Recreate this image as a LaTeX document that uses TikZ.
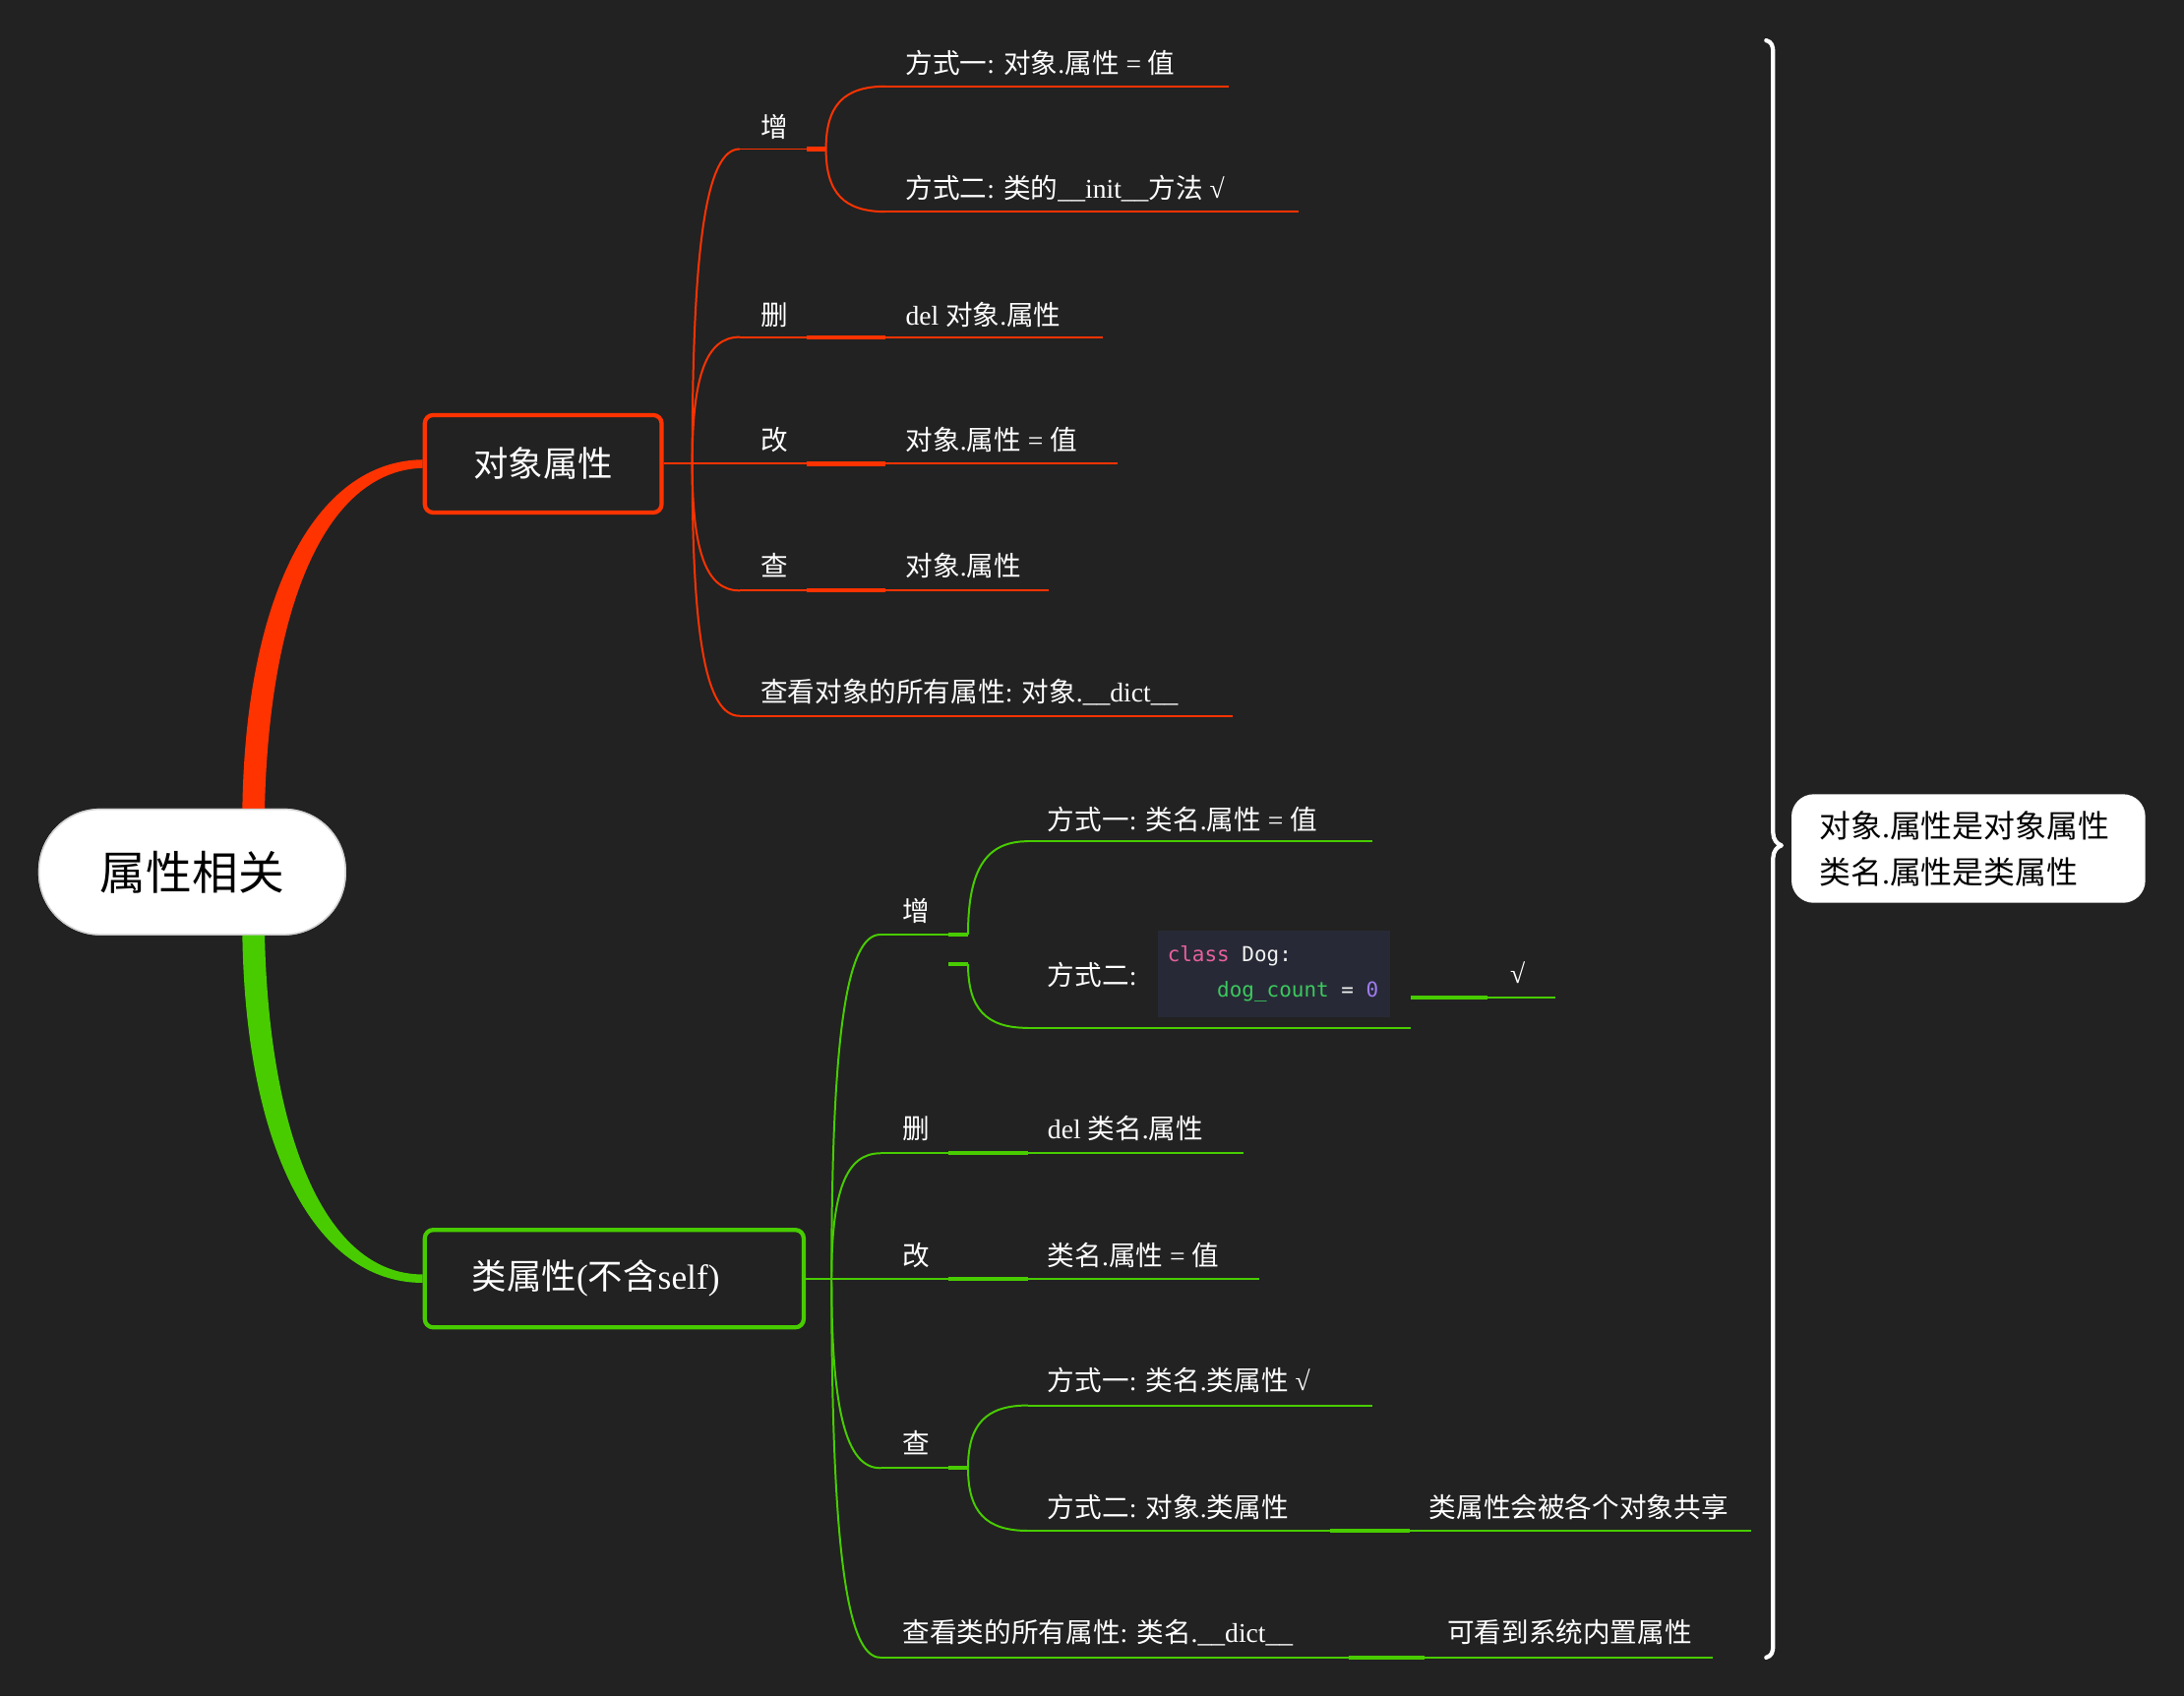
\documentclass[tikz,border=0pt]{standalone}
\usepackage{fontspec}
\setmainfont{Liberation Serif}
\newfontfamily\zhfont{Noto Sans CJK SC}
\newfontfamily\codefont{DejaVu Sans Mono}
\usetikzlibrary{calc}
\newcommand\zh[1]{{\zhfont#1}}
\newcommand\msp{\hspace*{0.602em}}
\definecolor{bg}{HTML}{222222}
\definecolor{rd}{HTML}{FF3300}
\definecolor{gn}{HTML}{48CC00}
\definecolor{codebg}{HTML}{272A36}
\definecolor{cpink}{HTML}{E8609F}
\definecolor{cgreen}{HTML}{3CC95E}
\definecolor{cpurple}{HTML}{A07CF0}
\definecolor{codew}{HTML}{F2F2F2}
\newcommand\brcurve[3]{\draw[ln,#1] (#2) .. controls ($(#2)!0.7!(#2|-#3)$) and ($(#2|-#3)!0.3!(#3)$) .. (#3);}
\begin{document}
\begin{tikzpicture}[x=1pt,y=-1pt,
  lbl/.style={anchor=west,inner sep=0pt,text=white,font=\fontsize{19.5}{23}\selectfont},
  ln/.style={line width=1.4pt},
  stub/.style={line width=3pt},
  branchbox/.style={draw,line width=3pt,rounded corners=6pt,minimum height=70pt,text=white,
    font=\fontsize{25}{30}\selectfont,inner xsep=0pt},
  rootbox/.style={fill=white,draw=gray!35,line width=1pt,rounded corners=44pt,minimum width=220pt,
    minimum height=90pt,font=\fontsize{33}{38}\selectfont,text=black},
]
\useasboundingbox (0,0) rectangle (1568,1218);
\fill[bg] (0,0) rectangle (1568,1218);

% ---------- main nodes ----------
\node[rootbox] (root) at (138,626) {\zh{属性相关}};
\node[branchbox,draw=rd,minimum width=170pt] (objbox) at (390,333) {\zh{对象属性}};
\node[branchbox,draw=gn,minimum width=272pt,text width=204pt,align=left,inner xsep=34pt] (clsbox) at (441,918) {\zh{类属性}(\zh{不含}self)};

% thick main connectors
\fill[rd] ($(root.north)+(36,1)$) .. controls (176,430) and (225,331) .. ($(objbox.west)+(0,-3)$)
  -- ($(objbox.west)+(0,3)$) .. controls (232,338) and (193,440) .. ($(root.north)+(52,1)$) -- cycle;
\fill[gn] ($(root.south)+(36,-1)$) .. controls (176,822) and (225,921) .. ($(clsbox.west)+(0,3)$)
  -- ($(clsbox.west)+(0,-3)$) .. controls (232,915) and (193,812) .. ($(root.south)+(52,-1)$) -- cycle;
% root on top of connectors
\node[rootbox] at (root) {\zh{属性相关}};

% ---------- red subtree ----------
\coordinate (R0) at (497,333);
\coordinate (rA) at (531,107); \coordinate (rB) at (531,242); \coordinate (rC) at (531,333);
\coordinate (rD) at (531,424); \coordinate (rE) at (531,514);
\draw[rd,ln] (objbox.east) -- (R0) -- (rC);
\brcurve{rd}{R0}{rA}
\brcurve{rd}{R0}{rB}
\brcurve{rd}{R0}{rD}
\brcurve{rd}{R0}{rE}

\node[lbl] (tA) at (546,91) {\zh{增}};
\node[lbl] (tA1) at (650,45) {\zh{方式一}: \zh{对象}.\zh{属性} = \zh{值}};
\node[lbl] (tA2) at (650,135) {\zh{方式二}: \zh{类的}\_\_init\_\_\zh{方法} √};
\node[lbl] (tB) at (546,226) {\zh{删}};
\node[lbl] (tB1) at (650,226) {del \zh{对象}.\zh{属性}};
\node[lbl] (tC) at (546,316) {\zh{改}};
\node[lbl] (tC1) at (650,316) {\zh{对象}.\zh{属性} = \zh{值}};
\node[lbl] (tD) at (546,406) {\zh{查}};
\node[lbl] (tD1) at (650,406) {\zh{对象}.\zh{属性}};
\node[lbl] (tE) at (546,497) {\zh{查看对象的所有属性}: \zh{对象}.\_\_dict\_\_};

% 增
\coordinate (rAe) at (579,107); \coordinate (rAf) at (593,107);
\coordinate (rA1) at (636,62); \coordinate (rA1e) at (882,62);
\coordinate (rA2) at (636,152); \coordinate (rA2e) at (932,152);
\draw[rd,ln] (rA) -- (rAe);
\draw[rd,stub] (rAe) -- (rAf);
\brcurve{rd}{rAf}{rA1}
\brcurve{rd}{rAf}{rA2}
\draw[rd,ln] (rA1) -- (rA1e);
\draw[rd,ln] (rA2) -- (rA2e);
% 删
\coordinate (rBe) at (579,242); \coordinate (rB1) at (636,242); \coordinate (rB1e) at (792,242);
\draw[rd,ln] (rB) -- (rBe); \draw[rd,stub] (rBe) -- (rB1); \draw[rd,ln] (rB1) -- (rB1e);
% 改
\coordinate (rCe) at (579,333); \coordinate (rC1) at (636,333); \coordinate (rC1e) at (802,333);
\draw[rd,ln] (rC) -- (rCe); \draw[rd,stub] (rCe) -- (rC1); \draw[rd,ln] (rC1) -- (rC1e);
% 查
\coordinate (rDe) at (579,424); \coordinate (rD1) at (636,424); \coordinate (rD1e) at (753,424);
\draw[rd,ln] (rD) -- (rDe); \draw[rd,stub] (rDe) -- (rD1); \draw[rd,ln] (rD1) -- (rD1e);
% 查看
\coordinate (rEe) at (885,514);
\draw[rd,ln] (rE) -- (rEe);

% ---------- green subtree ----------
\coordinate (G0) at (597,918);
\coordinate (gA) at (632,671); \coordinate (gB) at (632,828); \coordinate (gC) at (632,918);
\coordinate (gD) at (632,1054); \coordinate (gE) at (632,1190);
\draw[gn,ln] (clsbox.east) -- (G0) -- (gC);
\brcurve{gn}{G0}{gA}
\brcurve{gn}{G0}{gB}
\brcurve{gn}{G0}{gD}
\brcurve{gn}{G0}{gE}

\node[lbl] (uA) at (648,654) {\zh{增}};
\node[lbl] (uA1) at (752,588) {\zh{方式一}: \zh{类名}.\zh{属性} = \zh{值}};
\node[lbl] (uA2) at (752,700) {\zh{方式二}:};
\node[fill=codebg,anchor=north west,minimum width=167pt,minimum height=62pt,text width=153pt,
  inner xsep=7pt,inner ysep=0pt,align=left,font=\codefont\fontsize{14.8}{26}\selectfont] (code) at (831,668)
  {\textcolor{cpink}{class}\msp\textcolor{codew}{Dog:}\\\msp\msp\msp\msp\textcolor{cgreen}{dog\_count}\msp\textcolor{codew}{=}\msp\textcolor{cpurple}{0}};
\node[lbl] (uA3) at (1084,698) {√};
\node[lbl] (uB) at (648,810) {\zh{删}};
\node[lbl] (uB1) at (752,810) {del \zh{类名}.\zh{属性}};
\node[lbl] (uC) at (648,901) {\zh{改}};
\node[lbl] (uC1) at (752,901) {\zh{类名}.\zh{属性} = \zh{值}};
\node[lbl] (uD) at (648,1036) {\zh{查}};
\node[lbl] (uD1) at (752,991) {\zh{方式一}: \zh{类名}.\zh{类属性} √};
\node[lbl] (uD2) at (752,1082) {\zh{方式二}: \zh{对象}.\zh{类属性}};
\node[lbl] (uD3) at (1026,1082) {\zh{类属性会被各个对象共享}};
\node[lbl] (uE) at (648,1172) {\zh{查看类的所有属性}: \zh{类名}.\_\_dict\_\_};
\node[lbl] (uE1) at (1039,1172) {\zh{可看到系统内置属性}};

% 增
\coordinate (gAe) at (681,671); \coordinate (gAf) at (695,671);
\coordinate (gAg) at (681,692); \coordinate (gAh) at (695,692);
\coordinate (gA1) at (738,604); \coordinate (gA1e) at (985,604);
\coordinate (gA2) at (738,738); \coordinate (gA2e) at (1013,738);
\coordinate (gA3) at (1013,716); \coordinate (gA3m) at (1068,716); \coordinate (gA3e) at (1117,716);
\draw[gn,ln] (gA) -- (gAe);
\draw[gn,stub] (gAe) -- (gAf);
\draw[gn,stub] (gAg) -- (gAh);
\brcurve{gn}{gAf}{gA1}
\brcurve{gn}{gAh}{gA2}
\draw[gn,ln] (gA1) -- (gA1e);
\draw[gn,ln] (gA2) -- (gA2e);
\draw[gn,stub] (gA3) -- (gA3m); \draw[gn,ln] (gA3m) -- (gA3e);
% 删
\coordinate (gBe) at (681,828); \coordinate (gB1) at (738,828); \coordinate (gB1e) at (893,828);
\draw[gn,ln] (gB) -- (gBe); \draw[gn,stub] (gBe) -- (gB1); \draw[gn,ln] (gB1) -- (gB1e);
% 改
\coordinate (gCe) at (681,918); \coordinate (gC1) at (738,918); \coordinate (gC1e) at (904,918);
\draw[gn,ln] (gC) -- (gCe); \draw[gn,stub] (gCe) -- (gC1); \draw[gn,ln] (gC1) -- (gC1e);
% 查
\coordinate (gDe) at (681,1054); \coordinate (gDf) at (695,1054);
\coordinate (gD1) at (738,1009); \coordinate (gD1e) at (985,1009);
\coordinate (gD2) at (738,1099); \coordinate (gD2e) at (955,1099);
\coordinate (gD3) at (1012,1099); \coordinate (gD3e) at (1257,1099);
\draw[gn,ln] (gD) -- (gDe);
\draw[gn,stub] (gDe) -- (gDf);
\brcurve{gn}{gDf}{gD1}
\brcurve{gn}{gDf}{gD2}
\draw[gn,ln] (gD1) -- (gD1e);
\draw[gn,ln] (gD2) -- (gD2e);
\draw[gn,stub] (gD2e) -- (gD3); \draw[gn,ln] (gD3) -- (gD3e);
% 查看
\coordinate (gEe) at (968,1190); \coordinate (gE1) at (1023,1190); \coordinate (gE1e) at (1230,1190);
\draw[gn,ln] (gE) -- (gEe); \draw[gn,stub] (gEe) -- (gE1); \draw[gn,ln] (gE1) -- (gE1e);

% ---------- brace and note ----------
\coordinate (bTop) at (1268,29);
\coordinate (bTip) at (1279,607);
\coordinate (bBot) at (1268,1190);
\draw[white,line width=3pt,line cap=round,line join=round]
  (bTop) .. controls (1272,30) and (1273,33) .. (1273,38) -- (1273,598)
  .. controls (1273,603) and (1276,606) .. (bTip)
  .. controls (1276,608) and (1273,611) .. (1273,616) -- (1273,1181)
  .. controls (1273,1186) and (1272,1189) .. (bBot);
\node[fill=white,rounded corners=16pt,anchor=north west,minimum width=254pt,minimum height=78pt,
  text width=214pt,inner xsep=20pt,inner ysep=0pt,align=left,text=black,
  font=\fontsize{22.5}{33}\selectfont] (note) at (1286,570)
  {\zh{对象}.\zh{属性是对象属性}\\\zh{类名}.\zh{属性是类属性}};
\end{tikzpicture}
\end{document}
